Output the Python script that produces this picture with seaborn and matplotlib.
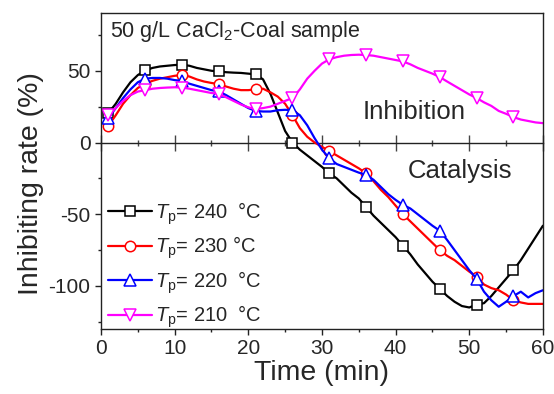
import numpy as np
import pandas as pd
import seaborn as sns
import matplotlib
matplotlib.use("Agg")
import matplotlib.pyplot as plt
from matplotlib.ticker import MultipleLocator, NullFormatter

# ---------------- data ----------------
time_min = list(range(1, 61))

tp240 = [20.5, 27, 35, 42, 47, 50.2, 52, 53, 53.5, 54, 54.2, 53.5, 52, 51, 50, 49.5, 49, 48.7, 48.5, 48,
         47.5, 44, 34, 21, 8, 0, -5, -9, -13, -17, -21.5, -25, -30, -35, -39, -45, -51, -56, -61, -66,
         -72, -78, -85, -91, -97, -102, -107, -111, -114, -115, -113, -112, -107, -101, -95, -89, -82, -74, -66, -58]

tp230 = [11.7, 19, 27, 33, 38, 41, 43, 44.5, 45.5, 46.5, 47, 46, 44, 42.5, 41.5, 40.7, 39, 37.5, 36.5, 36.5,
         37, 37.5, 35, 32, 27, 19, 10, 4, 0, -3, -6, -9, -12, -15, -18, -21.5, -27, -33, -38, -44,
         -50, -55, -60, -65, -70, -75, -79, -82, -86, -90, -93.5, -99, -101.5, -103, -106, -110, -111.5, -112.5, -112.5, -112.5]

tp220 = [17, 24, 31, 37, 42, 44.5, 45, 45, 44.5, 43.5, 43, 41, 39.5, 38, 36.5, 35.6, 33, 30, 27, 24,
         22, 21.6, 21.6, 22.5, 22.8, 22.5, 19, 12, 3, -5, -11, -15, -17, -19, -21, -22.5, -26, -31, -36, -40,
         -43.5, -46, -50, -54, -58, -61.5, -68, -75, -82, -89, -95, -104, -110, -114.5, -111, -107, -104, -108, -105, -103]

tp210 = [19, 24, 29, 33, 35.5, 36.5, 37.5, 38, 38.3, 38.5, 38.3, 37.5, 36.5, 35.5, 34.5, 34, 31.5, 29, 26.5, 24.5,
         23.3, 24, 25, 27, 29, 31, 37, 44.5, 50, 55, 58, 59.5, 60.5, 61, 61.2, 61, 60.5, 59.5, 58.5, 57.5,
         56.5, 54.5, 52, 50, 48, 45.6, 42.5, 39.5, 36.5, 33.5, 31, 28, 25.5, 22, 20, 17.7, 16, 15, 14, 13.5]

series_labels = [r"$T_\mathregular{p}$= 240  °C", r"$T_\mathregular{p}$= 230 °C",
                 r"$T_\mathregular{p}$= 220  °C", r"$T_\mathregular{p}$= 210  °C"]
series_values = [tp240, tp230, tp220, tp210]
series_colors = ["#000000", "#ff0000", "#0000ff", "#ff00ff"]
series_markers = ["s", "o", "^", "v"]
series_msize = [6.5, 7.5, 8.5, 8.5]

x_ticks = [0, 10, 20, 30, 40, 50, 60]
y_ticks = [-100, -50, 0, 50]

# ---------------- style ----------------
sns.set_style("ticks")
plt.rcParams["font.family"] = ["Liberation Sans", "DejaVu Sans"]
plt.rcParams["mathtext.fontset"] = "custom"
plt.rcParams["mathtext.rm"] = "Liberation Sans"
plt.rcParams["mathtext.it"] = "Liberation Sans:italic"
plt.rcParams["axes.edgecolor"] = "#222222"
plt.rcParams["axes.linewidth"] = 1.0
plt.rcParams["axes.unicode_minus"] = False

fig = plt.figure(figsize=(5.54, 3.94), dpi=100)
ax = fig.add_axes([0.1823, 0.165, 0.7977, 0.801])

YMIN, YMAX = -130, 90

for vals, lab, col, mk, ms in zip(series_values, series_labels, series_colors, series_markers, series_msize):
    df = pd.DataFrame({"t": time_min, "v": vals})
    sns.lineplot(data=df, x="t", y="v", ax=ax, color=col, linewidth=1.6,
                 marker=mk, markersize=ms, markerfacecolor="white",
                 markeredgecolor=col, markeredgewidth=1.1,
                 markevery=slice(0, None, 5), label=lab)

ax.set_xlim(0, 60)
ax.set_ylim(YMIN, YMAX)
ax.set_xticks(x_ticks)
ax.set_yticks(y_ticks)
ax.xaxis.set_minor_locator(MultipleLocator(5))
ax.yaxis.set_minor_locator(MultipleLocator(25))
ax.tick_params(which="major", direction="out", length=4.5, width=1.0, labelsize=15,
               color="#222222", pad=3)
ax.tick_params(which="minor", direction="out", length=2.5, width=1.0, color="#222222")

# zero line with ticks crossing it
sec = ax.secondary_xaxis((0 - YMIN) / (YMAX - YMIN))
sec.set_xticks(x_ticks)
sec.xaxis.set_major_formatter(NullFormatter())
sec.xaxis.set_minor_locator(MultipleLocator(5))
sec.tick_params(which="both", labelbottom=False, labeltop=False)
sec.tick_params(which="major", direction="inout", length=11, width=1.0, color="#444444")
sec.tick_params(which="minor", direction="inout", length=4.5, width=1.0, color="#444444")
sec.spines["bottom"].set_color("#444444")
sec.spines["bottom"].set_linewidth(1.0)

ax.set_xlabel("Time (min)", fontsize=20.5, labelpad=1)
ax.set_ylabel("Inhibiting rate (%)", fontsize=20.5, labelpad=4)
ax.yaxis.set_label_coords(-0.13, 0.46)

ax.text(0.02, 0.942, r"50 g/L CaCl$_\mathregular{2}$-Coal sample", transform=ax.transAxes,
        fontsize=15.5, ha="left", va="center")
ax.text(0.708, 0.687, "Inhibition", transform=ax.transAxes, fontsize=18.5, ha="center", va="center")
ax.text(0.813, 0.501, "Catalysis", transform=ax.transAxes, fontsize=18.5, ha="center", va="center")

ax.legend(loc="center left", bbox_to_anchor=(0.015, 0.202), frameon=False, fontsize=14.5,
          handlelength=2.2, handletextpad=0.15, labelspacing=0.4, borderpad=0, borderaxespad=0)

fig.savefig("out.png", dpi=100)
